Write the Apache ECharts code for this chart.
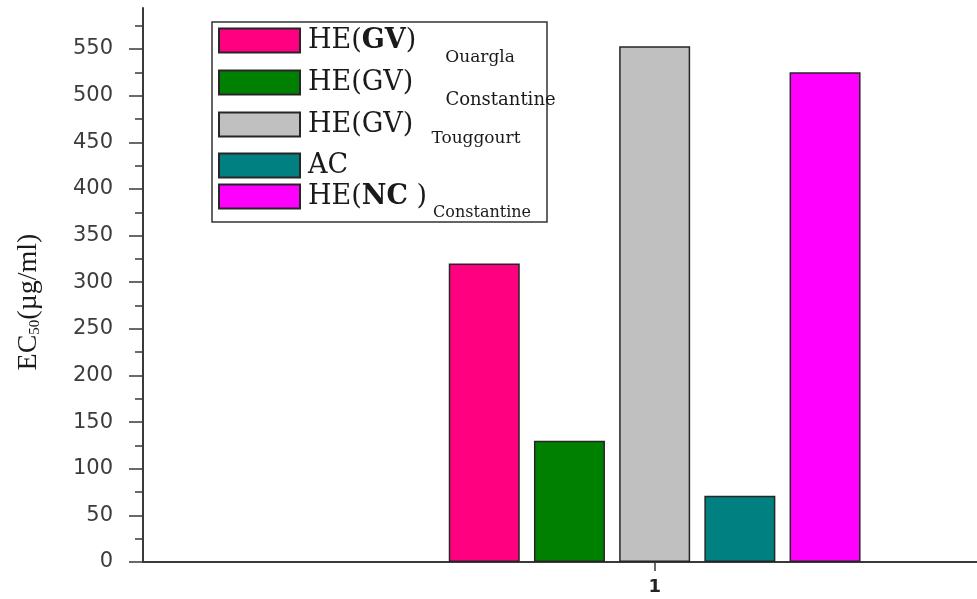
<!DOCTYPE html>
<html>
<head>
<meta charset="utf-8">
<script src="https://cdn.jsdelivr.net/npm/echarts@6/dist/echarts.min.js"></script>
<style>
html, body { margin: 0; padding: 0; background: #ffffff; }
#chart { width: 977px; height: 599px; }
</style>
</head>
<body>
<div id="chart"></div>
<script>
// EC50 values (µg/ml) of the extracts and the reference compound
const categories = ['1'];
const seriesNames = ['HE(GV) Ouargla', 'HE(GV) Constantine', 'HE(GV) Touggourt', 'AC', 'HE(NC) Constantine'];
const ec50Values = [320, 130, 553, 71, 525];
const seriesColors = ['#FF0080', '#008000', '#C0C0C0', '#008080', '#FF00FF'];
const majorTicks = [0, 50, 100, 150, 200, 250, 300, 350, 400, 450, 500, 550];
const minorTicks = [25, 75, 125, 175, 225, 275, 325, 375, 425, 475, 525, 575];
const yMax = 594;
const xRange = [0, 1.63];

const chart = echarts.init(document.getElementById('chart'));

const axisColor = '#3a3a3a';
const serif = 'DejaVu Serif';
const xPos = Number(categories[0]);

// one legend block per series so each entry can sit on its own line
const legendRows = [
  { top: 27, text: '{p|}{m|HE(}{b|GV}{m|)}{s|Ouargla}', sub: { fontSize: 17, padding: [34, 0, 0, 29] } },
  { top: 69, text: '{p|}{m|HE(GV)}{s|Constantine}', sub: { fontSize: 18, padding: [36, 0, 0, 32] } },
  { top: 111, text: '{p|}{m|HE(GV)}{s|Touggourt}', sub: { fontSize: 17, padding: [28, 0, 0, 18] } },
  { top: 152, text: '{p|}{m|AC}', sub: { fontSize: 14 } },
  { top: 183, text: '{p|}{m|HE(}{b|NC}{m| )}{s|Constantine}', sub: { fontSize: 16, padding: [32, 0, 0, 6] } }
];

const legends = legendRows.map((row, i) => ({
  data: [seriesNames[i]],
  left: 218,
  top: row.top,
  padding: 0,
  icon: 'rect',
  itemWidth: 81,
  itemHeight: 24,
  selectedMode: false,
  formatter: () => row.text,
  textStyle: {
    color: '#1a1a1a',
    fontFamily: serif,
    rich: {
      p: { width: 3 },
      m: { fontSize: 27, fontFamily: serif, color: '#1a1a1a' },
      b: { fontSize: 27, fontFamily: serif, fontWeight: 'bold', color: '#1a1a1a' },
      s: Object.assign({ fontFamily: serif, color: '#1a1a1a' }, row.sub)
    }
  }
}));

const series = seriesNames.map((name, i) => ({
  name: name,
  type: 'bar',
  data: [[xPos, ec50Values[i]]],
  barWidth: 71,
  barGap: '20%',
  itemStyle: {
    color: seriesColors[i],
    borderColor: '#262626',
    borderWidth: 1.5
  }
}));

chart.setOption({
  animation: false,
  backgroundColor: '#ffffff',
  grid: { left: 143, right: 0, top: 8, bottom: 37, containLabel: false },
  legend: legends,
  graphic: [{
    type: 'rect',
    z: -1,
    shape: { x: 212, y: 22, width: 335, height: 200 },
    style: { fill: '#ffffff', stroke: '#333333', lineWidth: 1.5 }
  }],
  xAxis: {
    type: 'value',
    min: xRange[0],
    max: xRange[1],
    axisLine: { show: true, onZero: false, lineStyle: { color: axisColor, width: 2 } },
    axisTick: { show: true, length: 9, customValues: [xPos], lineStyle: { color: axisColor, width: 1.5 } },
    axisLabel: { customValues: [xPos], formatter: () => categories[0], color: '#222222', fontSize: 18, fontWeight: 'bold', fontFamily: 'DejaVu Sans', margin: 16 },
    splitLine: { show: false }
  },
  yAxis: [{
    type: 'value',
    min: 0,
    max: yMax,
    position: 'left',
    name: '{a|EC}{b|50}{a|(µg/ml)}',
    nameLocation: 'middle',
    nameRotate: 90,
    nameGap: 100,
    nameTextStyle: {
      padding: [0, 34, 0, 0],
      rich: {
        a: { fontFamily: 'Liberation Serif', fontSize: 28, color: '#1a1a1a' },
        b: { fontFamily: 'Liberation Serif', fontSize: 15, color: '#1a1a1a', padding: [14, 0, 0, 0] }
      }
    },
    axisLine: { show: true, lineStyle: { color: axisColor, width: 2 } },
    axisTick: { show: true, length: 14, customValues: majorTicks, lineStyle: { color: axisColor, width: 1.5 } },
    axisLabel: { customValues: majorTicks, color: '#3c3c3c', fontSize: 21, fontFamily: 'DejaVu Sans', margin: 30 },
    splitLine: { show: false }
  }, {
    type: 'value',
    min: 0,
    max: yMax,
    position: 'left',
    axisLine: { show: false },
    axisTick: { show: true, length: 8, customValues: minorTicks, lineStyle: { color: axisColor, width: 1.5 } },
    axisLabel: { show: false },
    splitLine: { show: false }
  }],
  series: series
});
</script>
</body>
</html>
